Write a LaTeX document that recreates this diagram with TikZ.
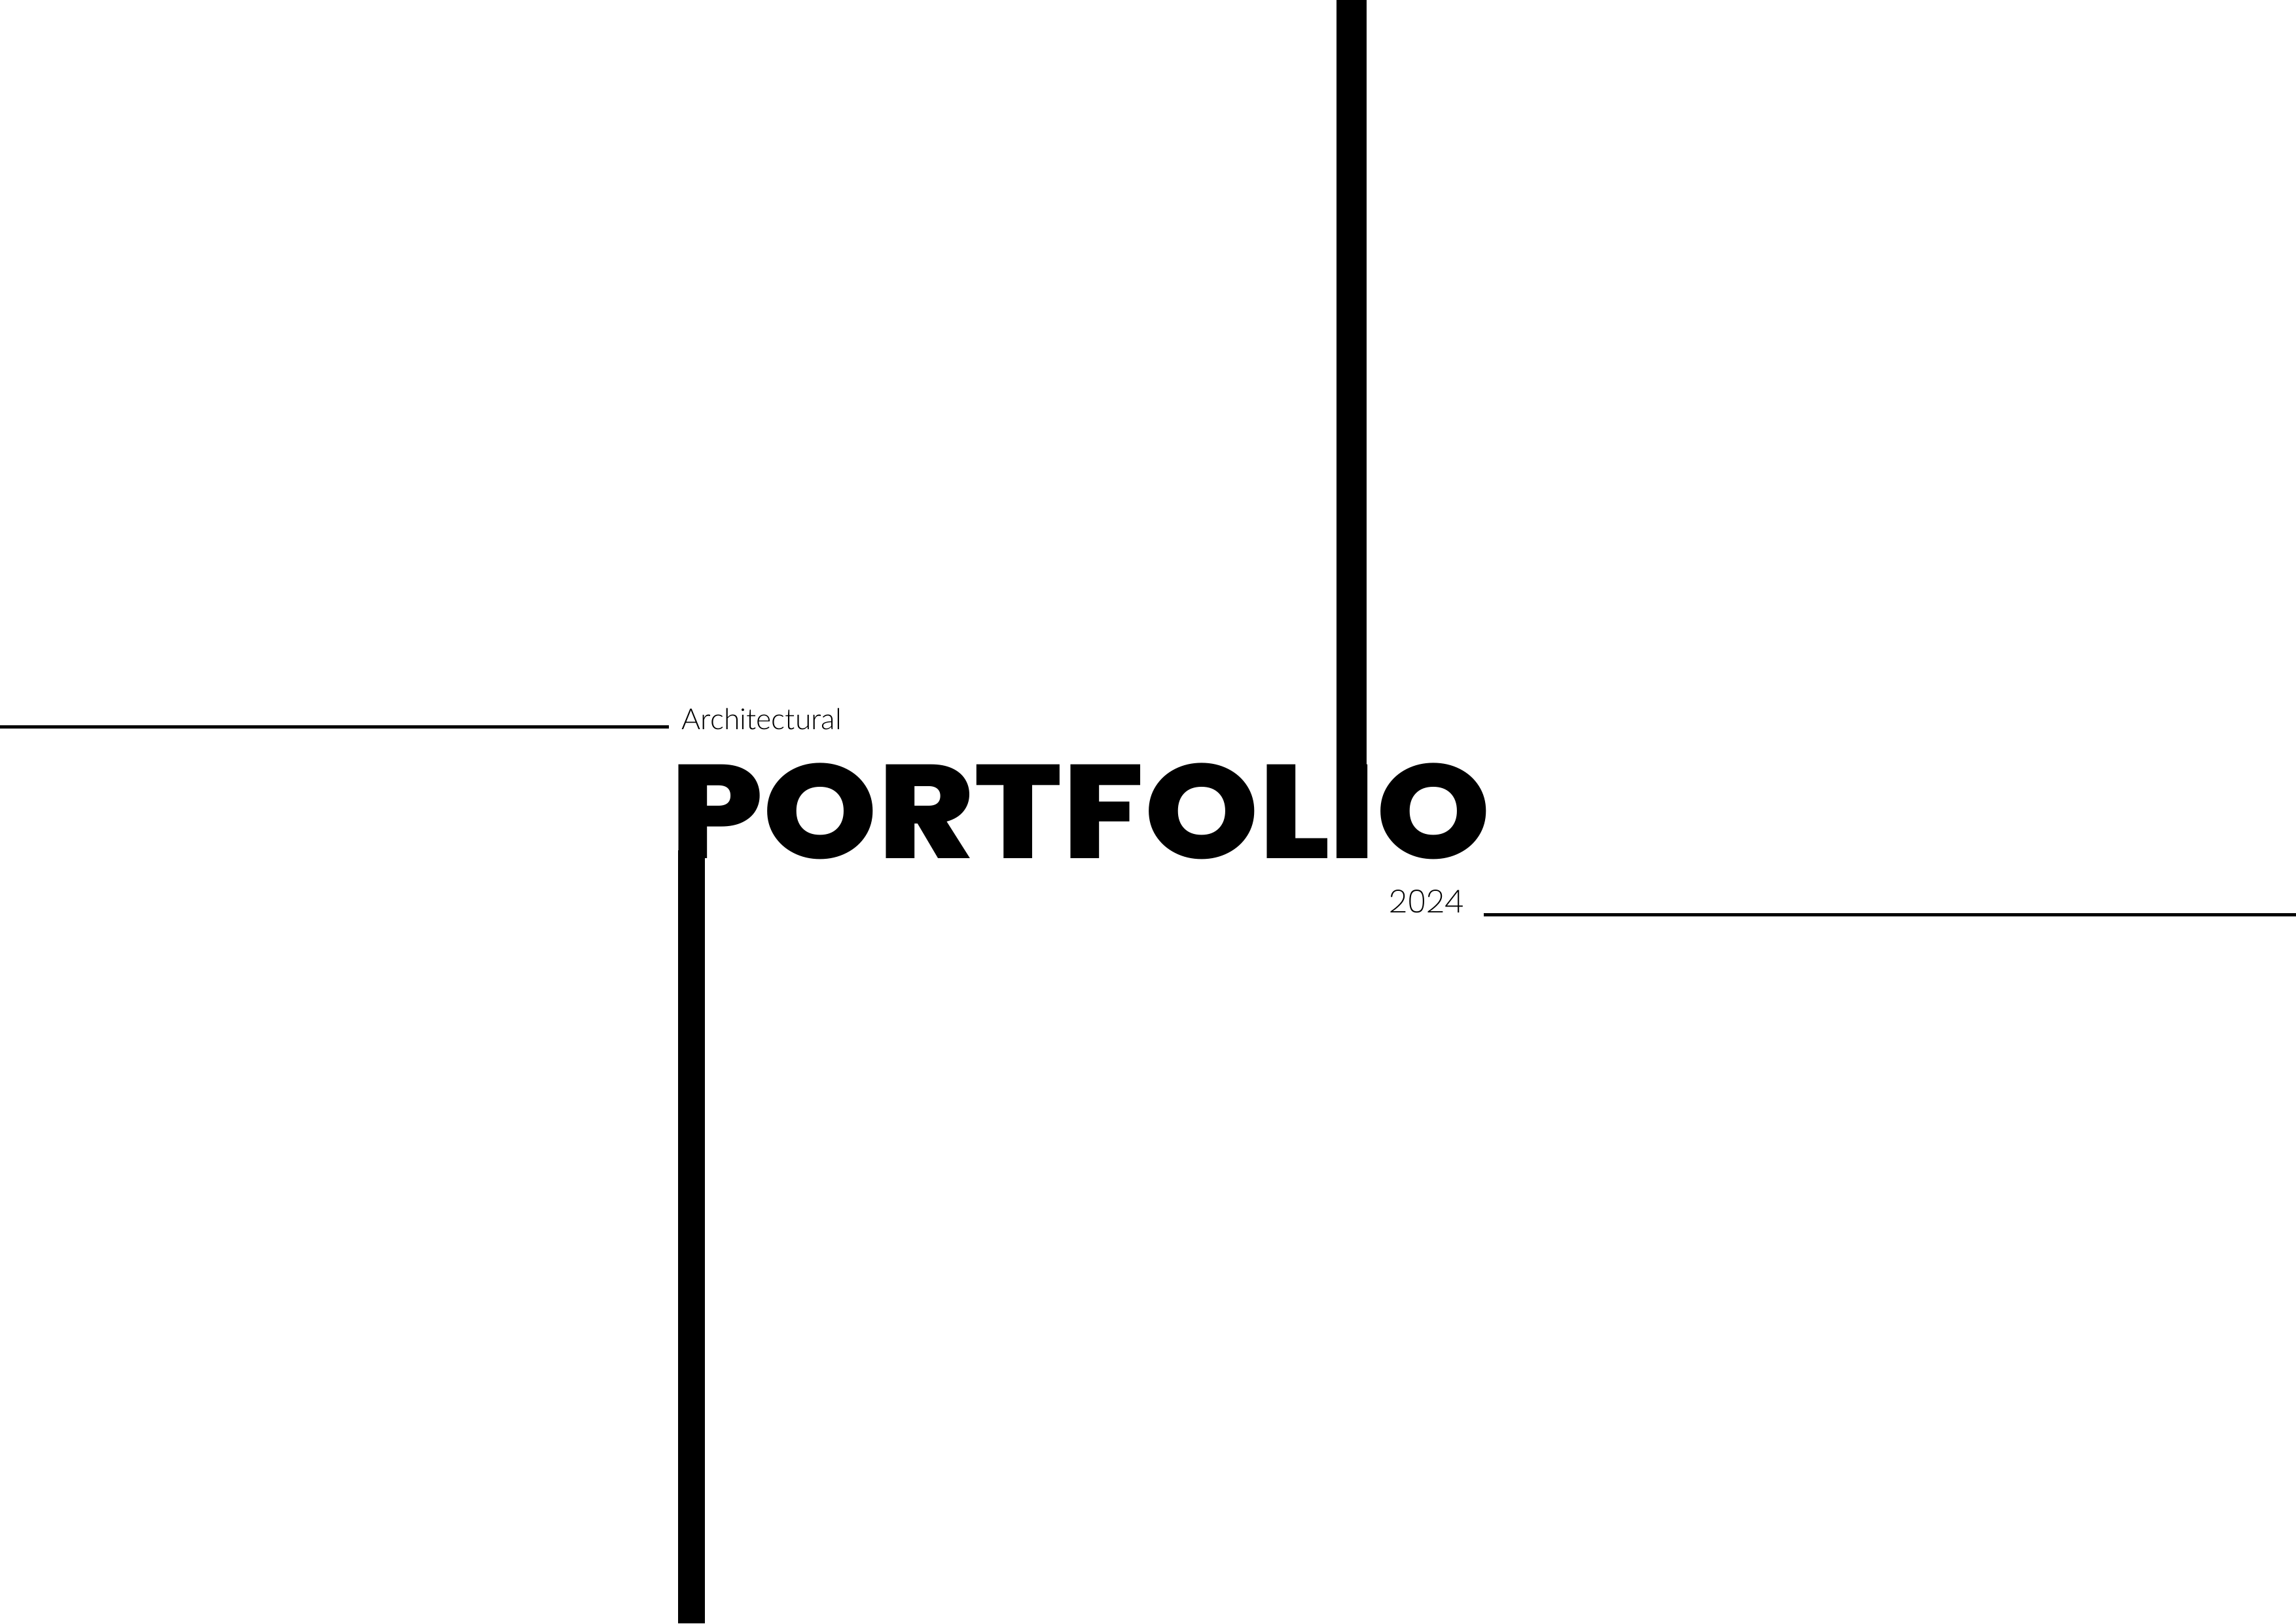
\documentclass[tikz,border=0pt]{standalone}
\usepackage{fontspec}
\usetikzlibrary{positioning}

\newfontfamily\titlefont{Poppins ExtraBold}
\newfontfamily\thinfont{Lato Light}
\newfontfamily\yearfont{Poppins ExtraLight}

\tikzstyle{rule} = [draw, line width=0.42mm]
\tikzstyle{bar} = [fill, draw=none]
\tikzstyle{word} = [inner sep=0, outer sep=0, anchor=base west]

\begin{document}
\begin{tikzpicture}[x=1mm,y=1mm]

\def\colT{black};
\def\fillP{white};

\useasboundingbox (0,0) rectangle (297,210);
\fill[\fillP] (0,0) rectangle (297,210);

\node[word,\colT,xscale=1.096,transform shape,
      text depth=0pt,
      font=\titlefont\fontsize{49}{49}\selectfont]
      (title) at (86.71,99.0) {PORTFOLIO};

\node[word,\colT,
      font=\thinfont\fontsize{10.7}{10.7}\selectfont]
      (arch) at (88.2,115.6) {Architectural};

\node[word,\colT,
      font=\yearfont\fontsize{11.7}{11.7}\selectfont]
      (year) at (179.7,91.9) {2024};

% bars through P and I
\coordinate (pfoot) at (87.7,0);
\coordinate (ptop) at (91.2,100.0);
\fill[bar,\colT] (pfoot) rectangle (ptop);

\coordinate (ifoot) at (172.9,99.0);
\coordinate (itop) at (176.8,210);
\fill[bar,\colT] (ifoot) rectangle (itop);

% rules
\coordinate (ruleAl) at (0,116.0);
\coordinate (ruleAr) at (86.5,116.0);
\draw[rule,\colT] (ruleAl) -- (ruleAr);

\coordinate (ruleBl) at (191.9,91.7);
\coordinate (ruleBr) at (297,91.7);
\draw[rule,\colT] (ruleBl) -- (ruleBr);

\end{tikzpicture}
\end{document}
